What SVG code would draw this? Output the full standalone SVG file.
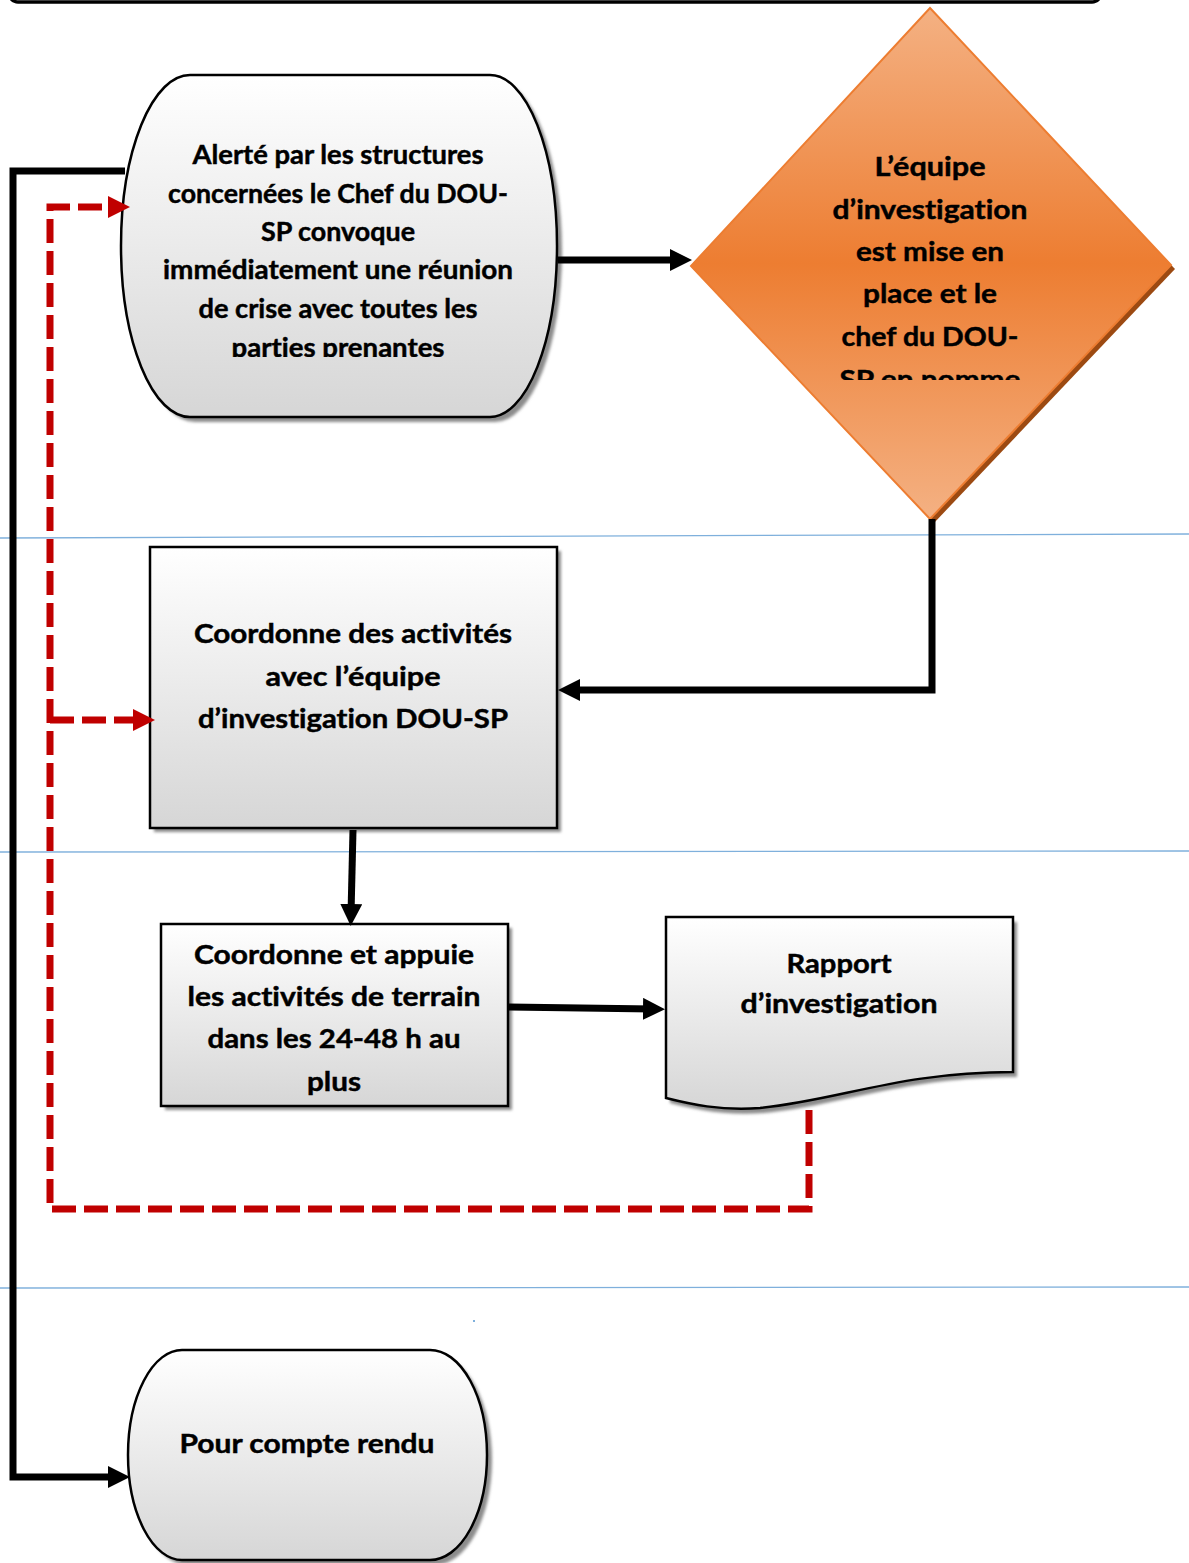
<svg xmlns="http://www.w3.org/2000/svg" width="1189" height="1563" viewBox="0 0 1189 1563">
<defs>
<linearGradient id="gGray" x1="0" y1="0" x2="0" y2="1">
<stop offset="0" stop-color="#ffffff"/>
<stop offset="1" stop-color="#d6d6d6"/>
</linearGradient>
<linearGradient id="gOrange" x1="0" y1="0" x2="0" y2="1">
<stop offset="0" stop-color="#f4b183"/>
<stop offset="0.5" stop-color="#ed7d31"/>
<stop offset="1" stop-color="#f4b183"/>
</linearGradient>
<filter id="blur" x="-10%" y="-10%" width="120%" height="120%">
<feGaussianBlur stdDeviation="1.5"/>
</filter>
<marker id="ahB" markerUnits="userSpaceOnUse" markerWidth="24" markerHeight="24" refX="10" refY="11" orient="auto">
<path d="M0,0 L22,11 L0,22 Z" fill="#000"/>
</marker>
<marker id="ahR" markerUnits="userSpaceOnUse" markerWidth="24" markerHeight="24" refX="10" refY="11" orient="auto">
<path d="M0,0 L22,11 L0,22 Z" fill="#c00000"/>
</marker>
<clipPath id="clip1"><rect x="100" y="60" width="480" height="297"/></clipPath>
<clipPath id="clip2"><rect x="680" y="0" width="509" height="380"/></clipPath>
</defs>
<style>
.t{font-family:Lato,"Open Sans","Liberation Sans",sans-serif;font-weight:bold;font-size:26px;fill:#000;stroke:#000;stroke-width:0.45;text-anchor:middle;font-variant-ligatures:none;font-feature-settings:"liga" 0}
.shape{fill:url(#gGray);stroke:#000;stroke-width:2.5}
.shadow{fill:#8c8c8c;filter:url(#blur)}
.lane{stroke:#7fb0dc;stroke-width:1.3;fill:none}
.conn{fill:none;stroke:#000;stroke-width:7}
.dash{fill:none;stroke:#c00000;stroke-width:7;stroke-dasharray:24 8}
</style>

<rect x="9" y="-50" width="1092" height="52" rx="9" fill="none" stroke="#000" stroke-width="3.5"/>

<g id="lanes">
<line class="lane" x1="0" y1="538" x2="1189" y2="534"/>
<line class="lane" x1="0" y1="852" x2="1189" y2="851"/>
<line class="lane" x1="0" y1="1288" x2="1189" y2="1287"/>
<rect x="473" y="1320" width="2" height="2" fill="#7fb0dc"/>
</g>

<g id="node-alerte">
<path class="shadow" transform="translate(5,5)" d="M190,75 H490 A67,171 0 0 1 490,417 H190 A69,171 0 0 1 190,75 Z"/>
<path class="shape" d="M190,75 H490 A67,171 0 0 1 490,417 H190 A69,171 0 0 1 190,75 Z"/>
<g clip-path="url(#clip1)">
<text class="t" x="338" y="164" textLength="291" lengthAdjust="spacingAndGlyphs">Alerté par les structures</text>
<text class="t" x="338" y="203" textLength="340" lengthAdjust="spacingAndGlyphs">concernées le Chef du DOU-</text>
<text class="t" x="338" y="241" textLength="154" lengthAdjust="spacingAndGlyphs">SP convoque</text>
<text class="t" x="338" y="279" textLength="350" lengthAdjust="spacingAndGlyphs">immédiatement une réunion</text>
<text class="t" x="338" y="318" textLength="279" lengthAdjust="spacingAndGlyphs">de crise avec toutes les</text>
<text class="t" x="338" y="357" textLength="213" lengthAdjust="spacingAndGlyphs">parties prenantes</text>
</g>
</g>

<g id="node-equipe">
<path d="M930,12 L1175,269 L934,523 L695,270 Z" fill="#9c4a12"/>
<path d="M930,8 L1171,265 L930,519 L691,266 Z" fill="url(#gOrange)" stroke="#ed7d31" stroke-width="2"/>
<g clip-path="url(#clip2)">
<text class="t" x="930" y="176" textLength="111" lengthAdjust="spacingAndGlyphs">L’équipe</text>
<text class="t" x="930" y="219" textLength="195" lengthAdjust="spacingAndGlyphs">d’investigation</text>
<text class="t" x="930" y="261" textLength="148" lengthAdjust="spacingAndGlyphs">est mise en</text>
<text class="t" x="930" y="303" textLength="134" lengthAdjust="spacingAndGlyphs">place et le</text>
<text class="t" x="930" y="346" textLength="177" lengthAdjust="spacingAndGlyphs">chef du DOU-</text>
<text class="t" x="930" y="389" textLength="181" lengthAdjust="spacingAndGlyphs">SP en nomme</text>
</g>
</g>

<g id="node-coordonne">
<rect class="shadow" x="154" y="551" width="407" height="281"/>
<rect class="shape" x="150" y="547" width="407" height="281"/>
<text class="t" x="353" y="643" textLength="318" lengthAdjust="spacingAndGlyphs">Coordonne des activités</text>
<text class="t" x="353" y="686" textLength="175" lengthAdjust="spacingAndGlyphs">avec l’équipe</text>
<text class="t" x="353" y="728" textLength="310" lengthAdjust="spacingAndGlyphs">d’investigation DOU-SP</text>
</g>

<g id="node-appuie">
<rect class="shadow" x="165" y="928" width="347" height="182"/>
<rect class="shape" x="161" y="924" width="347" height="182"/>
<text class="t" x="334" y="964" textLength="280" lengthAdjust="spacingAndGlyphs">Coordonne et appuie</text>
<text class="t" x="334" y="1006" textLength="293" lengthAdjust="spacingAndGlyphs">les activités de terrain</text>
<text class="t" x="334" y="1048" textLength="253" lengthAdjust="spacingAndGlyphs">dans les 24-48 h au</text>
<text class="t" x="334" y="1091" textLength="54" lengthAdjust="spacingAndGlyphs">plus</text>
</g>

<g id="node-rapport">
<path class="shadow" transform="translate(4,5)" d="M666,917 H1013 V1072 C900,1072 840,1100 760,1108 C720,1111 690,1104 666,1098 Z"/>
<path class="shape" d="M666,917 H1013 V1072 C900,1072 840,1100 760,1108 C720,1111 690,1104 666,1098 Z"/>
<text class="t" x="839" y="973" textLength="105" lengthAdjust="spacingAndGlyphs">Rapport</text>
<text class="t" x="839" y="1013" textLength="197" lengthAdjust="spacingAndGlyphs">d’investigation</text>
</g>

<g id="node-compte-rendu">
<path class="shadow" transform="translate(5,5)" d="M182,1350 H430 A57,105 0 0 1 430,1560 H182 A54,105 0 0 1 182,1350 Z"/>
<path class="shape" d="M182,1350 H430 A57,105 0 0 1 430,1560 H182 A54,105 0 0 1 182,1350 Z"/>
<text class="t" x="307" y="1453" textLength="255" lengthAdjust="spacingAndGlyphs">Pour compte rendu</text>
</g>

<g id="connectors">
<path class="conn" d="M125,171 H13 V1477 H118" marker-end="url(#ahB)"/>
<path class="conn" d="M558,260 H680" marker-end="url(#ahB)"/>
<path class="conn" d="M932,519 V690 H570" marker-end="url(#ahB)"/>
<path class="conn" d="M353,830 L351,914" marker-end="url(#ahB)"/>
<path class="conn" d="M509,1007 L653,1009" marker-end="url(#ahB)"/>
<path class="dash" d="M809,1110 V1209 H50 V207 H118" marker-end="url(#ahR)"/>
<path class="dash" d="M50,720 H143" marker-end="url(#ahR)"/>
</g>
</svg>
